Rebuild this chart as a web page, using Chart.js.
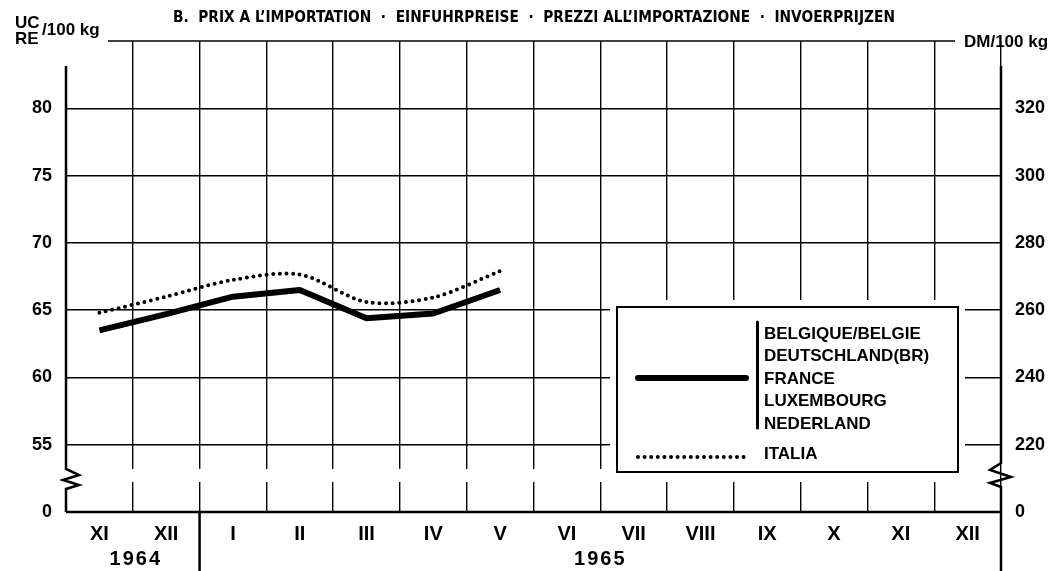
<!DOCTYPE html>
<html>
<head>
<meta charset="utf-8">
<script src="https://cdn.jsdelivr.net/npm/chart.js@4.4.1/dist/chart.umd.min.js"></script>
<style>
  html, body { margin: 0; padding: 0; background: #fff; }
  #wrap { width: 1058px; height: 571px; }
</style>
</head>
<body>
<div id="wrap"><canvas id="prices"></canvas></div>
<script>
// months Nov 1964 - Dec 1965
const months = ['XI', 'XII', 'I', 'II', 'III', 'IV', 'V', 'VI', 'VII', 'VIII', 'IX', 'X', 'XI', 'XII'];
const years = ['1964', '1965'];
// import prices UC/RE per 100 kg
const communityPrices = [63.5, 64.7, 66.0, 66.5, 64.4, 64.75, 66.5, null, null, null, null, null, null, null];
const italiaPrices = [64.8, 66.0, 67.25, 67.65, 65.6, 65.95, 67.9, null, null, null, null, null, null, null];
// axis ticks (the bottom value stands for the broken 0)
const ucValues = [50, 55, 60, 65, 70, 75, 80];
const ucLabels = ['0', '55', '60', '65', '70', '75', '80'];
const dmValues = [200, 220, 240, 260, 280, 300, 320];
const dmLabels = ['0', '220', '240', '260', '280', '300', '320'];
const legendCountries = ['BELGIQUE/BELGIE', 'DEUTSCHLAND(BR)', 'FRANCE', 'LUXEMBOURG', 'NEDERLAND'];
const legendItalia = 'ITALIA';
const title = 'B.  PRIX A L\u2019IMPORTATION  \u00b7  EINFUHRPREISE  \u00b7  PREZZI ALL\u2019IMPORTAZIONE  \u00b7  INVOERPRIJZEN';

const FONT = "'Liberation Sans', Arial, sans-serif";
const NARROW = "'Liberation Sans Narrow', 'DejaVu Sans Condensed', 'Liberation Sans', sans-serif";

function line(ctx, pts, w) {
  ctx.beginPath();
  ctx.lineWidth = w;
  ctx.moveTo(pts[0][0], pts[0][1]);
  for (let i = 1; i < pts.length; i++) ctx.lineTo(pts[i][0], pts[i][1]);
  ctx.stroke();
}

const decorations = {
  id: 'decorations',
  afterDraw(chart) {
    const ctx = chart.ctx;
    const a = chart.chartArea;
    const x = chart.scales.x;
    ctx.save();
    ctx.strokeStyle = '#000';
    ctx.fillStyle = '#000';
    ctx.lineCap = 'butt';

    // break strip in the grid
    ctx.fillStyle = '#fff';
    ctx.fillRect(a.left + 1, 469, a.right - a.left - 2, 13);

    // top line
    ctx.strokeStyle = '#000';
    line(ctx, [[108, a.top], [955, a.top]], 1.5);

    // left axis with zigzag
    line(ctx, [[a.left, 66], [a.left, 469], [79, 475], [63, 480], [79, 485], [a.left, 489], [a.left, a.bottom]], 2.5);
    // right axis with zigzag, down to the bottom
    line(ctx, [[a.right, 66], [a.right, 463], [990, 470], [1011, 477], [990, 483], [a.right, 487], [a.right, 571]], 2.5);
    // zero line
    line(ctx, [[a.left, a.bottom], [a.right, a.bottom]], 2.5);
    // year separator
    const sep = (x.getPixelForValue(1) + x.getPixelForValue(2)) / 2;
    line(ctx, [[sep, a.bottom], [sep, 571]], 2.5);

    // legend box
    const bx = 617, by = 307, bw = 341, bh = 165;
    ctx.fillStyle = '#fff';
    ctx.fillRect(bx - 7, by - 7, bw + 14, bh + 14);
    ctx.lineWidth = 2;
    ctx.strokeRect(bx, by, bw, bh);
    ctx.lineCap = 'round';
    line(ctx, [[638, 378], [746, 378]], 6);
    line(ctx, [[757.5, 322], [757.5, 428]], 3);
    ctx.setLineDash([0, 6.6]);
    line(ctx, [[638, 457], [744, 457]], 4);
    ctx.setLineDash([]);
    ctx.fillStyle = '#000';
    ctx.font = 'bold 17px ' + FONT;
    ctx.textAlign = 'left';
    ctx.textBaseline = 'middle';
    legendCountries.forEach((t, i) => ctx.fillText(t, 764, 334 + i * 22.5));
    ctx.fillText(legendItalia, 764, 454);

    // unit labels
    ctx.textBaseline = 'alphabetic';
    ctx.font = 'bold 17px ' + FONT;
    ctx.fillText('UC', 15, 28);
    ctx.fillText('RE', 15, 44);
    ctx.fillText('/100 kg', 42, 35);
    ctx.fillText('DM/100 kg', 964, 47);

    // years
    ctx.font = 'bold 20px ' + FONT;
    ctx.letterSpacing = '2px';
    ctx.textAlign = 'center';
    ctx.textBaseline = 'middle';
    const y1 = (x.getPixelForValue(0) + x.getPixelForValue(1)) / 2;
    const y2 = (x.getPixelForValue(7) + x.getPixelForValue(8)) / 2;
    ctx.fillText(years[0], y1 + 3, 559);
    ctx.fillText(years[1], y2, 559);
    ctx.letterSpacing = '0px';

    // title squeezed into its width
    ctx.font = 'bold 15px ' + NARROW;
    const w = ctx.measureText(title).width;
    const target = 722;
    ctx.translate(534, 18);
    ctx.scale(target / w, 1);
    ctx.fillText(title, 0, 0);
    ctx.restore();
  }
};

const ctx = document.getElementById('prices');
const chart = new Chart(ctx, {
  type: 'line',
  data: {
    labels: months,
    datasets: [{
      label: legendCountries.join(', '),
      data: communityPrices,
      borderColor: '#000',
      borderWidth: 6,
      borderJoinStyle: 'round',
      pointRadius: 0,
      tension: 0,
      yAxisID: 'y'
    }, {
      label: legendItalia,
      data: italiaPrices,
      borderColor: '#000',
      borderWidth: 4,
      borderDash: [0, 6.6],
      borderCapStyle: 'round',
      pointRadius: 0,
      tension: 0.3,
      yAxisID: 'y'
    }]
  },
  options: {
    responsive: true,
    maintainAspectRatio: false,
    animation: false,
    layout: { padding: { top: 41, left: 0, right: 0, bottom: 0 } },
    plugins: {
      legend: { display: false },
      tooltip: { enabled: false }
    },
    scales: {
      x: {
        type: 'category',
        offset: true,
        grid: {
          offset: true,
          drawTicks: false,
          lineWidth: 1.4,
          color: (c) => (c.index === 0 || c.index === months.length) ? 'rgba(0,0,0,0)' : '#000'
        },
        border: { display: false },
        ticks: {
          color: '#000',
          padding: 10,
          autoSkip: false,
          maxRotation: 0,
          font: { family: FONT, size: 20, weight: 'bold' }
        },
        afterFit: (s) => { s.height = 59; }
      },
      y: {
        position: 'left',
        min: 50,
        max: 85,
        afterBuildTicks: (s) => { s.ticks = ucValues.map(v => ({ value: v })); },
        grid: {
          drawTicks: false,
          lineWidth: 1.4,
          color: (c) => (c.tick && c.tick.value === 50) ? 'rgba(0,0,0,0)' : '#000'
        },
        border: { display: false },
        ticks: {
          color: '#000',
          padding: 14,
          font: { family: FONT, size: 18, weight: 'bold' },
          callback: (v, i) => ucLabels[i]
        },
        afterFit: (s) => { s.width = 66; }
      },
      y2: {
        position: 'right',
        min: 200,
        max: 340,
        afterBuildTicks: (s) => { s.ticks = dmValues.map(v => ({ value: v })); },
        grid: { display: false, drawTicks: false },
        border: { display: false },
        ticks: {
          color: '#000',
          padding: 14,
          font: { family: FONT, size: 18, weight: 'bold' },
          callback: (v, i) => dmLabels[i]
        },
        afterFit: (s) => { s.width = 57; }
      }
    }
  },
  plugins: [decorations]
});
</script>
</body>
</html>
